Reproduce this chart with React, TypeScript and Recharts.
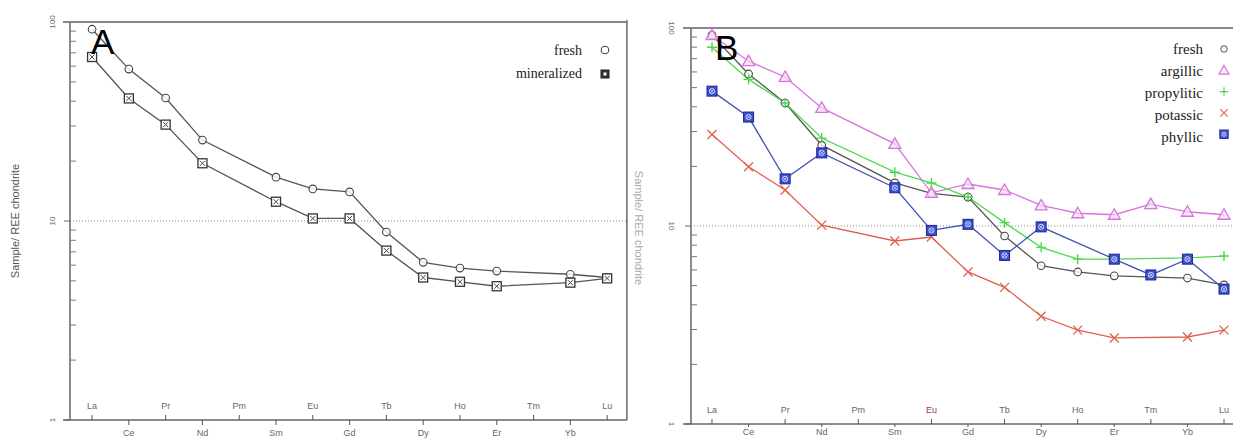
import React from "react";
import { LineChart, Line, XAxis, YAxis, ReferenceLine } from "recharts";

const ELEMENTS = ["La", "Ce", "Pr", "Nd", "Pm", "Sm", "Eu", "Gd", "Tb", "Dy", "Ho", "Er", "Tm", "Yb", "Lu"];
const X_TICKS = ELEMENTS.map((_, i) => i);
const Y_TICKS = [1, 2, 3, 4, 5, 6, 7, 8, 9, 10, 20, 30, 40, 50, 60, 70, 80, 90, 100];
const Y_MAJOR = [1, 10, 100];

// panel A
const A_FRESH = [92, 58, 41.5, 25.5, null, 16.6, 14.5, 14.0, 8.8, 6.2, 5.8, 5.6, null, 5.4, 5.2];
const A_MINERALIZED = [66.7, 41.3, 30.5, 19.5, null, 12.5, 10.3, 10.3, 7.1, 5.2, 4.95, 4.7, null, 4.9, 5.15];

// panel B
const B_FRESH = [92, 58.6, 41.8, 25.6, null, 16.5, 14.6, 14.0, 8.9, 6.3, 5.86, 5.6, null, 5.46, 5.04];
const B_ARGILLIC = [92, 68, 56.6, 39.5, null, 26, 14.7, 16.3, 15.2, 12.7, 11.6, 11.4, 12.9, 11.8, 11.4];
const B_PROPYLITIC = [80, 55, 41.8, 27.8, null, 18.7, 16.5, 14.0, 10.4, 7.8, 6.8, 6.8, null, 6.9, 7.05];
const B_POTASSIC = [29, 19.9, 15.2, 10.1, null, 8.4, 8.8, 5.86, 4.9, 3.5, 2.98, 2.72, null, 2.75, 2.98];
const B_PHYLLIC = [48, 35.5, 17.3, 23.4, null, 15.6, 9.5, 10.2, 7.1, 9.9, null, 6.8, 5.66, 6.8, 4.8];

const A_SERIES = [
  { key: "fresh", values: A_FRESH, color: "#555", shape: "circle" },
  { key: "mineralized", values: A_MINERALIZED, color: "#555", shape: "squareX" },
];

const B_SERIES = [
  { key: "fresh", values: B_FRESH, color: "#555", shape: "circle" },
  { key: "argillic", values: B_ARGILLIC, color: "#d676dc", shape: "triangle" },
  { key: "propylitic", values: B_PROPYLITIC, color: "#4ed84e", shape: "plus" },
  { key: "potassic", values: B_POTASSIC, color: "#e0604e", shape: "cross" },
  { key: "phyllic", values: B_PHYLLIC, color: "#4652b4", shape: "squareBlue" },
];

function Marker({ shape, cx, cy, color }: { shape: string; cx: number; cy: number; color: string }) {
  if (cx == null || cy == null || isNaN(cx) || isNaN(cy)) return <g />;
  switch (shape) {
    case "circle":
      return <circle cx={cx} cy={cy} r={3.8} fill="#fff" fillOpacity={0.8} stroke="#444" strokeWidth={1.1} />;
    case "squareX":
      return (
        <g>
          <rect x={cx - 4.5} y={cy - 4.5} width={9} height={9} fill="#fff" stroke="#333" strokeWidth={1.3} />
          <path
            d={`M${cx - 2.5},${cy - 2.5}L${cx + 2.5},${cy + 2.5}M${cx + 2.5},${cy - 2.5}L${cx - 2.5},${cy + 2.5}`}
            stroke="#444"
            strokeWidth={1}
          />
        </g>
      );
    case "squareDark":
      return (
        <g>
          <rect x={cx - 4} y={cy - 4} width={8} height={8} fill="#333" stroke="#222" strokeWidth={1} />
          <rect x={cx - 1.5} y={cy - 1.5} width={3} height={3} fill="#fff" />
        </g>
      );
    case "triangle":
      return (
        <path
          d={`M${cx},${cy - 6}L${cx + 6},${cy + 4.5}L${cx - 6},${cy + 4.5}Z`}
          fill="#f6dcf6"
          fillOpacity={0.7}
          stroke={color}
          strokeWidth={1.3}
        />
      );
    case "plus":
      return (
        <path d={`M${cx - 5},${cy}H${cx + 5}M${cx},${cy - 5}V${cy + 5}`} stroke={color} strokeWidth={1.4} />
      );
    case "cross":
      return (
        <path
          d={`M${cx - 4.5},${cy - 4.5}L${cx + 4.5},${cy + 4.5}M${cx + 4.5},${cy - 4.5}L${cx - 4.5},${cy + 4.5}`}
          stroke={color}
          strokeWidth={1.3}
        />
      );
    case "squareBlue":
      return (
        <g>
          <rect x={cx - 5} y={cy - 5} width={10} height={10} fill="#3a4ed0" stroke="#1e2a8a" strokeWidth={1} />
          <circle cx={cx} cy={cy} r={2.6} fill="none" stroke="#d8e0ff" strokeWidth={0.9} />
          <path
            d={`M${cx - 2},${cy - 2}L${cx + 2},${cy + 2}M${cx + 2},${cy - 2}L${cx - 2},${cy + 2}`}
            stroke="#d8e0ff"
            strokeWidth={0.8}
          />
        </g>
      );
    default:
      return <g />;
  }
}

const XTick = (props: any) => {
  const { x, y, payload, labelColor, lowOffset, lowTick } = props;
  const i = payload.value;
  const up = i % 2 === 0;
  const label = ELEMENTS[i];
  return (
    <g>
      <line x1={x} x2={x} y1={up ? y - 5 : y} y2={up ? y : y + lowTick} stroke="#555" strokeWidth={1} />
      <text
        x={x}
        y={up ? y - 11 : y + lowOffset}
        textAnchor="middle"
        fontSize={9}
        fontFamily="Arial, 'Liberation Sans', sans-serif"
        fill={labelColor && labelColor[label] ? labelColor[label] : "#666"}
      >
        {label}
      </text>
    </g>
  );
};

const YTick = (props: any) => {
  const { x, y, payload, flip } = props;
  const v = payload.value;
  if (Y_MAJOR.includes(v)) {
    const tx = flip ? x - 22 : x - 15;
    return (
      <g>
        <line x1={x - 6} x2={x} y1={y} y2={y} stroke="#666" strokeWidth={1} />
        <text
          x={tx}
          y={y}
          textAnchor="middle"
          fontSize={8}
          fontFamily="Arial, 'Liberation Sans', sans-serif"
          fill="#666"
          transform={`rotate(${flip ? 90 : -90}, ${tx}, ${y})`}
        >
          {v}
        </text>
      </g>
    );
  }
  return <line x1={x} x2={x + 6} y1={y} y2={y} stroke="#777" strokeWidth={1} />;
};

function buildRows(series: { key: string; values: (number | null)[] }[]) {
  return ELEMENTS.map((el, i) => {
    const row: any = { x: i, el };
    series.forEach((s) => {
      row[s.key] = s.values[i];
    });
    return row;
  });
}

function Panel({
  series,
  width,
  height,
  top,
  yAxisWidth,
  xAxisHeight,
  xDomain,
  flip,
  labelColor,
  rightBorder,
  lowOffset,
  lowTick,
}: any) {
  const data = buildRows(series);
  return (
    <LineChart width={width} height={height} data={data} margin={{ top, right: 0, bottom: 0, left: 0 }}>
      <XAxis
        type="number"
        dataKey="x"
        domain={xDomain}
        ticks={X_TICKS}
        interval={0}
        allowDataOverflow
        height={xAxisHeight}
        tickSize={0}
        tickMargin={0}
        tickLine={false}
        axisLine={{ stroke: "#666", strokeWidth: 1.5 }}
        tick={(p: any) => <XTick {...p} labelColor={labelColor} lowOffset={lowOffset} lowTick={lowTick} />}
      />
      <YAxis
        type="number"
        scale="log"
        domain={[1, 100]}
        ticks={Y_TICKS}
        interval={0}
        allowDataOverflow
        width={yAxisWidth}
        tickSize={0}
        tickMargin={0}
        tickLine={false}
        axisLine={{ stroke: "#666", strokeWidth: 1.5 }}
        tick={(p: any) => <YTick {...p} flip={flip} />}
      />
      <ReferenceLine y={100} stroke="#888" strokeWidth={2} />
      {rightBorder && <ReferenceLine x={xDomain[1]} stroke="#777" strokeWidth={1.5} />}
      <ReferenceLine y={10} stroke="#888" strokeWidth={1} strokeDasharray="1 2" />
      {series.map((s: any) => (
        <Line
          key={s.key}
          type="linear"
          dataKey={s.key}
          stroke={s.color}
          strokeWidth={1.3}
          connectNulls
          isAnimationActive={false}
          dot={(p: any) => <Marker key={`${s.key}-${p.index}`} shape={s.shape} cx={p.cx} cy={p.cy} color={s.color} />}
          activeDot={false}
        />
      ))}
    </LineChart>
  );
}

export default function App() {
  const serif = "'Liberation Serif', 'Times New Roman', serif";
  const sans = "Arial, 'Liberation Sans', sans-serif";
  const legendA = [
    { name: "fresh", shape: "circle", color: "#444", ty: 55, my: 50 },
    { name: "mineralized", shape: "squareDark", color: "#333", ty: 78, my: 74 },
  ];
  const legendB = B_SERIES.map((s, i) => ({
    name: s.key,
    shape: s.shape,
    color: s.color,
    ty: 54 + i * 22,
    my: 49 + i * 21.3,
  }));
  return (
    <div style={{ position: "absolute", left: 0, top: 0, width: 1233, height: 438, background: "#fff", overflow: "hidden" }}>
      <div style={{ position: "absolute", left: 0, top: 0 }}>
        <Panel
          series={A_SERIES}
          width={627}
          height={438}
          top={22}
          yAxisWidth={70}
          xAxisHeight={18}
          xDomain={[-0.6, 14.54]}
          flip={false}
          rightBorder
          lowOffset={16}
          lowTick={5}
        />
      </div>
      <div style={{ position: "absolute", left: 620, top: 0 }}>
        <Panel
          series={B_SERIES}
          width={613}
          height={438}
          top={28}
          yAxisWidth={71}
          xAxisHeight={14}
          xDomain={[-0.574, 14.246]}
          flip={true}
          labelColor={{ Eu: "#9a3a3a" }}
          lowOffset={11}
          lowTick={3}
        />
      </div>
      <svg width={1233} height={438} style={{ position: "absolute", left: 0, top: 0, pointerEvents: "none" }}>
        {/* frame extensions past the left axes */}
        <line x1={63} x2={70} y1={22} y2={22} stroke="#888" strokeWidth={2} />
        <line x1={63} x2={70} y1={420} y2={420} stroke="#666" strokeWidth={1.5} />
        <line x1={683} x2={691} y1={28} y2={28} stroke="#888" strokeWidth={2} />
        <line x1={683} x2={691} y1={424} y2={424} stroke="#666" strokeWidth={1.5} />
        {/* right border of panel A */}
        <line x1={627} x2={627} y1={20} y2={420} stroke="#777" strokeWidth={1.5} />
        <text
          x={19}
          y={221}
          textAnchor="middle"
          fontSize={11}
          fontFamily={sans}
          fill="#555"
          transform="rotate(-90, 19, 221)"
        >
          Sample/ REE chondrite
        </text>
        <text
          x={635}
          y={228}
          textAnchor="middle"
          fontSize={11}
          fontFamily={sans}
          fill="#aaa"
          transform="rotate(90, 635, 228)"
        >
          Sample/ REE chondrite
        </text>
        <text x={91} y={54} fontSize={35} fontFamily={sans} fill="#000">
          A
        </text>
        <text x={715} y={60} fontSize={35} fontFamily={sans} fill="#000">
          B
        </text>
        {legendA.map((l) => (
          <g key={l.name}>
            <text x={582} y={l.ty} textAnchor="end" fontSize={14} fontFamily={serif} fill="#222">
              {l.name}
            </text>
            <Marker shape={l.shape} cx={605} cy={l.my} color={l.color} />
          </g>
        ))}
        {legendB.map((l) => (
          <g key={l.name}>
            <text x={1203} y={l.ty} textAnchor="end" fontSize={15} fontFamily={serif} fill="#222">
              {l.name}
            </text>
            <g transform={`translate(${1224}, ${l.my}) scale(0.85) translate(${-1224}, ${-l.my})`}>
              <Marker shape={l.shape} cx={1224} cy={l.my} color={l.color} />
            </g>
          </g>
        ))}
      </svg>
    </div>
  );
}
